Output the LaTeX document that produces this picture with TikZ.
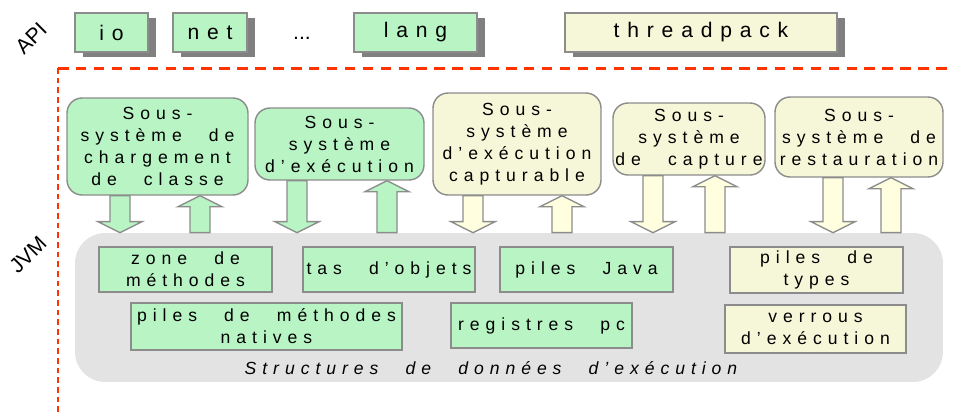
\documentclass[tikz,border=0pt]{standalone}
\usepackage{fontspec}
\setmainfont{Liberation Sans}
\newfontfamily\boxfont[LetterSpace=34,WordSpace=2.5]{Liberation Sans}
\newfontfamily\apifont[LetterSpace=37]{Liberation Sans}
\usepackage{xcolor}
\usepackage{tikz}
\usetikzlibrary{calc,shadows,positioning}
\definecolor{mint}{HTML}{B8F4C4}
\definecolor{cream}{HTML}{F6F6D8}
\definecolor{pale}{HTML}{FFFFE0}
\definecolor{edge}{HTML}{8C8C8C}
\definecolor{shade}{HTML}{808080}
\definecolor{rtgray}{HTML}{E3E3E3}
\definecolor{jvmred}{HTML}{FF3300}
\tikzset{
  box/.style={draw=edge, line width=0.8pt, align=center, inner sep=0pt,
    font=\boxfont\fontsize{10}{12.5}\selectfont},
  apibox/.style={box, fill=mint, minimum height=0.78cm,
    font=\apifont\fontsize{12}{14}\selectfont,
    drop shadow={shadow xshift=0.16cm, shadow yshift=-0.1cm, fill=shade, opacity=1}},
  sysbox/.style={box, rounded corners=0.3cm},
  datbox/.style={box, minimum height=0.9cm},
  arrG/.style={draw=edge, line width=0.8pt, fill=mint, line join=miter},
  arrY/.style={draw=edge, line width=0.8pt, fill=pale, line join=miter},
  jvm/.style={draw=jvmred, line width=1.7pt},
  lab/.style={text=black, font=\fontsize{12}{14}\selectfont},
}
% block arrow: style, x, tail anchor, tip anchor, head offset
\newcommand{\blk}[5]{%
  \draw[#1] ($(#2,0 |- #3)+(-10,0)$) -- ($(#2,0 |- #4)+(-10,#5)$)
    -- ($(#2,0 |- #4)+(-22,#5)$) -- (#2,0 |- #4) -- ($(#2,0 |- #4)+(22,#5)$)
    -- ($(#2,0 |- #4)+(10,#5)$) -- ($(#2,0 |- #3)+(10,0)$) -- cycle;}

\begin{document}
\begin{tikzpicture}[x=0.02cm, y=-0.02cm]
\useasboundingbox (0,0) rectangle (954,414);

% API
\node[lab, rotate=45] (api) at (31,38) {API};
\node[apibox, minimum width=1.46cm] (io) at (111.5,32.5) {io};
\node[apibox, minimum width=1.48cm] (net) at (210,32.5) {net};
\node[lab] (dots) at (302,38) {...};
\node[apibox, minimum width=2.46cm] (lang) at (415.5,32.5) {lang};
\node[apibox, fill=cream, minimum width=5.44cm] (tp) at (701,32.5) {threadpack};

% JVM frame
\node[lab, rotate=45] (jvmlab) at (28,255) {JVM};
\draw[jvm, dash pattern=on 6pt off 4.2pt] (58,68) -- (954,68);
\draw[jvm, dash pattern=on 3.3pt off 2.2pt] (58,68) -- (58,414);

% runtime data area
\node[fill=rtgray, rounded corners=0.6cm, minimum width=17.36cm, minimum height=2.98cm] (rt) at (509,307.5) {};
\node[datbox, fill=mint, minimum width=3.46cm] (zm) at (185.5,269.5) {zone de\\méthodes};
\node[datbox, fill=mint, minimum width=3.44cm] (tas) at (389,269.5) {tas d’objets};
\node[datbox, fill=mint, minimum width=3.46cm] (pj) at (586.5,269.5) {piles Java};
\node[datbox, fill=mint, minimum width=5.42cm, minimum height=0.94cm] (pmn) at (266.5,326.5) {piles de méthodes\\natives};
\node[datbox, fill=mint, minimum width=3.62cm] (rpc) at (541.5,325.5) {registres pc};
\node[datbox, fill=cream, minimum width=3.46cm, minimum height=0.92cm] (pt) at (816.5,270) {piles de\\types};
\node[datbox, fill=cream, minimum width=3.62cm, minimum height=0.96cm] (vx) at (815.5,329) {verrous\\d’exécution};
\node[font=\boxfont\fontsize{10}{12}\selectfont\itshape] (rtlab) at (491,368) {Structures de données d’exécution};

% subsystems
\node[sysbox, fill=mint, minimum width=3.62cm, minimum height=1.94cm] (s1) at (157.5,146.5) {Sous-\\système de\\chargement\\de classe};
\node[sysbox, fill=mint, minimum width=3.38cm, minimum height=1.44cm] (s2) at (339.5,144) {Sous-\\système\\d’exécution};
\node[sysbox, fill=cream, minimum width=3.36cm, minimum height=2.04cm] (s3) at (517,144) {Sous-\\système\\d’exécution\\capturable};
\node[sysbox, fill=cream, minimum width=3.04cm, minimum height=1.44cm] (s4) at (689,139) {Sous-\\système\\de capture};
\node[sysbox, fill=cream, minimum width=3.36cm, minimum height=1.6cm] (s5) at (859,137) {Sous-\\système de\\restauration};

% arrows
\blk{arrG}{120}{s1.south}{rt.north}{-11}
\blk{arrG}{200}{rt.north}{s1.south}{11}
\blk{arrG}{297}{s2.south}{rt.north}{-11}
\blk{arrG}{387}{rt.north}{s2.south}{11}
\blk{arrY}{473}{s3.south}{rt.north}{-11}
\blk{arrY}{562}{rt.north}{s3.south}{11}
\blk{arrY}{653}{s4.south}{rt.north}{-11}
\blk{arrY}{715}{rt.north}{s4.south}{11}
\blk{arrY}{833}{s5.south}{rt.north}{-11}
\blk{arrY}{891}{rt.north}{s5.south}{11}
\end{tikzpicture}
\end{document}
